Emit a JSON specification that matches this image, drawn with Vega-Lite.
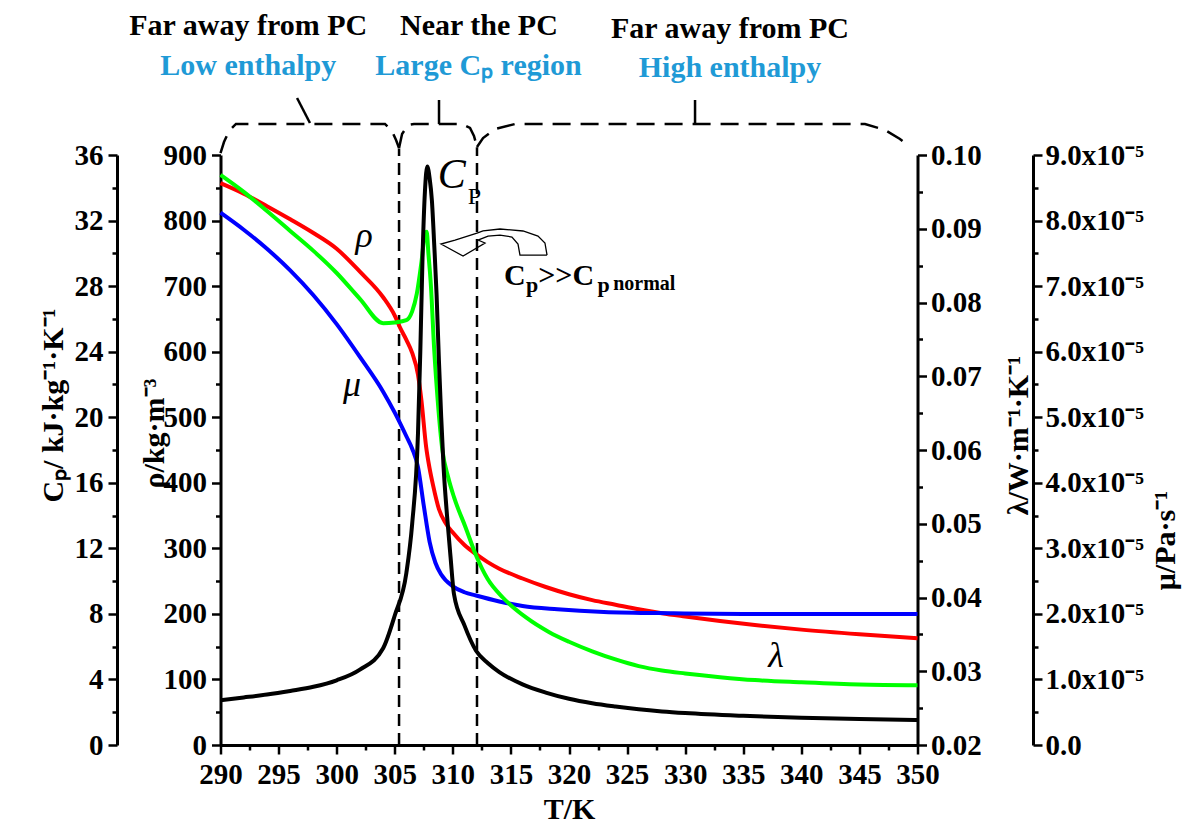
{
  "$schema": "https://vega.github.io/schema/vega-lite/v6.json",
  "width": 697,
  "height": 590,
  "autosize": {"type": "none"},
  "padding": {"left": 220.5, "top": 155, "right": 266.5, "bottom": 78},
  "background": "white",
  "config": {
    "view": {"stroke": null},
    "axis": {
      "domainColor": "black", "domainWidth": 3, "tickColor": "black", "tickWidth": 2.5,
      "labelFont": "Liberation Serif", "labelFontWeight": "bold", "labelFontSize": 29, "labelColor": "black",
      "titleFont": "Liberation Serif", "titleFontWeight": "bold", "titleFontSize": 28, "titleColor": "black",
      "grid": false, "labelOverlap": false, "labelFlush": false, "labelBound": false
    }
  },
  "datasets": {
    "cp": [
      {"T":290,"cp":2.73},{"T":292,"cp":2.9},{"T":294,"cp":3.08},{"T":296,"cp":3.3},{"T":298,"cp":3.55},{"T":300,"cp":3.95},{"T":302,"cp":4.6},{"T":304,"cp":5.9},{"T":305,"cp":7.9},{"T":306,"cp":10.5},{"T":306.5,"cp":13.5},{"T":307,"cp":19},{"T":307.2,"cp":24},{"T":307.4,"cp":30},{"T":307.6,"cp":33.8},{"T":307.8,"cp":35.3},{"T":308,"cp":34.6},{"T":308.2,"cp":33.2},{"T":308.4,"cp":30.5},{"T":308.6,"cp":27.5},{"T":308.8,"cp":23.5},{"T":309,"cp":20},{"T":309.2,"cp":17},{"T":309.5,"cp":14},{"T":309.8,"cp":11.5},{"T":310.1,"cp":9.2},{"T":311,"cp":7.3},{"T":312,"cp":5.75},{"T":313,"cp":5.0},{"T":314,"cp":4.45},{"T":316,"cp":3.7},{"T":318,"cp":3.2},{"T":320,"cp":2.82},{"T":322,"cp":2.55},{"T":324,"cp":2.35},{"T":326,"cp":2.18},{"T":328,"cp":2.05},{"T":330,"cp":1.95},{"T":335,"cp":1.78},{"T":340,"cp":1.66},{"T":345,"cp":1.58},{"T":350,"cp":1.53}
    ],
    "rho": [
      {"T":290,"rho":857},{"T":292,"rho":841},{"T":294,"rho":822},{"T":296,"rho":802},{"T":298,"rho":781},{"T":300,"rho":757},{"T":302,"rho":722},{"T":304,"rho":683},{"T":305,"rho":655},{"T":305.5,"rho":635},{"T":306,"rho":618},{"T":306.5,"rho":598},{"T":307,"rho":565},{"T":307.3,"rho":525},{"T":307.7,"rho":455},{"T":308,"rho":422},{"T":308.3,"rho":396},{"T":308.8,"rho":360},{"T":309.4,"rho":338},{"T":310,"rho":324},{"T":311,"rho":305},{"T":312,"rho":291},{"T":313,"rho":279},{"T":314,"rho":269},{"T":316,"rho":254},{"T":318,"rho":241},{"T":320,"rho":230},{"T":322,"rho":221},{"T":324,"rho":214},{"T":326,"rho":207},{"T":328,"rho":201},{"T":330,"rho":196},{"T":333,"rho":189},{"T":336,"rho":183},{"T":340,"rho":176},{"T":345,"rho":169},{"T":350,"rho":163}
    ],
    "lam": [
      {"T":290,"lam":0.0973},{"T":292,"lam":0.0950},{"T":294,"lam":0.0924},{"T":296,"lam":0.0897},{"T":298,"lam":0.0870},{"T":300,"lam":0.0840},{"T":302,"lam":0.0805},{"T":304,"lam":0.0772},{"T":305,"lam":0.0773},{"T":306,"lam":0.0776},{"T":306.5,"lam":0.0788},{"T":306.9,"lam":0.0812},{"T":307.3,"lam":0.0855},{"T":307.6,"lam":0.0893},{"T":307.75,"lam":0.0896},{"T":307.9,"lam":0.0866},{"T":308.1,"lam":0.0826},{"T":308.4,"lam":0.0735},{"T":308.7,"lam":0.0667},{"T":309.1,"lam":0.0600},{"T":309.6,"lam":0.0563},{"T":310.1,"lam":0.0536},{"T":311.1,"lam":0.0495},{"T":312,"lam":0.0457},{"T":313,"lam":0.0425},{"T":314.3,"lam":0.0400},{"T":316.3,"lam":0.0373},{"T":318.3,"lam":0.0353},{"T":320,"lam":0.0340},{"T":322,"lam":0.0327},{"T":324,"lam":0.0316},{"T":326,"lam":0.0307},{"T":328,"lam":0.0301},{"T":330,"lam":0.0297},{"T":333,"lam":0.0292},{"T":336,"lam":0.0288},{"T":340,"lam":0.0285},{"T":345,"lam":0.0282},{"T":350,"lam":0.0281}
    ],
    "mu": [
      {"T":290,"mu":8.12e-5},{"T":292,"mu":7.86e-5},{"T":294,"mu":7.57e-5},{"T":296,"mu":7.24e-5},{"T":298,"mu":6.86e-5},{"T":300,"mu":6.42e-5},{"T":302,"mu":5.92e-5},{"T":304,"mu":5.39e-5},{"T":305,"mu":5.07e-5},{"T":306,"mu":4.71e-5},{"T":306.5,"mu":4.52e-5},{"T":307,"mu":4.24e-5},{"T":307.5,"mu":3.65e-5},{"T":308,"mu":3.1e-5},{"T":308.5,"mu":2.78e-5},{"T":309,"mu":2.6e-5},{"T":310,"mu":2.42e-5},{"T":311,"mu":2.33e-5},{"T":312,"mu":2.28e-5},{"T":314,"mu":2.19e-5},{"T":316,"mu":2.12e-5},{"T":319,"mu":2.07e-5},{"T":323,"mu":2.03e-5},{"T":329,"mu":2.01e-5},{"T":335,"mu":2.0e-5},{"T":350,"mu":2.0e-5}
    ],
    "braces": [
      {"id":"b1","i":1,"T":290,"v":903},{"id":"b1","i":2,"T":290.3,"v":919.8},{"id":"b1","i":3,"T":290.73,"v":936.6},{"id":"b1","i":4,"T":291.33,"v":947.3},{"id":"b1","i":5,"T":304.16,"v":947.3},{"id":"b1","i":6,"T":304.76,"v":936.6},{"id":"b1","i":7,"T":305.11,"v":922.8},{"id":"b1","i":8,"T":305.37,"v":910.6},
      {"id":"b2","i":1,"T":305.37,"v":910.6},{"id":"b2","i":2,"T":305.63,"v":932.1},{"id":"b2","i":3,"T":306.14,"v":945.8},{"id":"b2","i":4,"T":306.66,"v":947.3},{"id":"b2","i":5,"T":310.79,"v":947.3},{"id":"b2","i":6,"T":311.48,"v":941.2},{"id":"b2","i":7,"T":311.82,"v":929.0},{"id":"b2","i":8,"T":312.08,"v":912.2},
      {"id":"b3","i":1,"T":312.08,"v":912.2},{"id":"b3","i":2,"T":312.6,"v":925.9},{"id":"b3","i":3,"T":313.63,"v":939.6},{"id":"b3","i":4,"T":315.35,"v":947.3},{"id":"b3","i":5,"T":345.48,"v":947.3},{"id":"b3","i":6,"T":347.2,"v":938.1},{"id":"b3","i":7,"T":348.49,"v":924.4},{"id":"b3","i":8,"T":349.35,"v":912.2}
    ],
    "pointers": [
      {"id":"p1","i":1,"T":296.59,"v":986.9},{"id":"p1","i":2,"T":297.7,"v":948.8},
      {"id":"p2","i":1,"T":308.81,"v":983.9},{"id":"p2","i":2,"T":308.81,"v":947.3},
      {"id":"p3","i":1,"T":330.85,"v":983.9},{"id":"p3","i":2,"T":330.85,"v":947.3}
    ],
    "arrow": [
      {"i":1,"T":318.11,"v":747.4},{"i":2,"T":317.93,"v":765.8},{"i":3,"T":317.33,"v":776.4},{"i":4,"T":316.04,"v":784.1},{"i":5,"T":314.06,"v":787.1},{"i":6,"T":312.6,"v":784.1},{"i":7,"T":312.08,"v":781.0},{"i":8,"T":310.19,"v":770.3},{"i":9,"T":308.98,"v":764.2},{"i":10,"T":310.88,"v":745.9},{"i":11,"T":312.77,"v":765.8},{"i":12,"T":312.17,"v":770.3},{"i":13,"T":313.03,"v":776.4},{"i":14,"T":314.06,"v":777.9},{"i":15,"T":315.09,"v":774.9},{"i":16,"T":315.61,"v":764.2},{"i":17,"T":315.78,"v":747.4},{"i":18,"T":318.11,"v":747.4}
    ]
  },
  "encoding": {
    "x": {
      "field": "T", "type": "quantitative",
      "scale": {"domain": [290, 350], "nice": false, "zero": false},
      "axis": {
        "title": "T/K", "titleFontSize": 30, "labelFontSize": 29,
        "values": [290,292.5,295,297.5,300,302.5,305,307.5,310,312.5,315,317.5,320,322.5,325,327.5,330,332.5,335,337.5,340,342.5,345,347.5,350],
        "labelExpr": "datum.value % 5 === 0 ? datum.label : ''",
        "tickSize": {"condition": {"test": "datum.value % 5 !== 0", "value": 5}, "value": 9},
        "labelPadding": 6, "titleY": 73, "titleBaseline": "alphabetic"
      }
    }
  },
  "layer": [
    {
      "data": {"values": [{"T":305.37,"v0":0,"v1":910},{"T":312.08,"v0":0,"v1":912}]},
      "mark": {"type": "rule", "color": "black", "strokeWidth": 2.5, "strokeDash": [12, 7]},
      "encoding": {
        "y": {"field": "v0", "type": "quantitative", "scale": {"domain": [0, 900], "nice": false, "zero": false}, "axis": null},
        "y2": {"field": "v1"}
      }
    },
    {
      "data": {"name": "braces"},
      "mark": {"type": "line", "color": "black", "strokeWidth": 2.5, "strokeDash": [18, 10]},
      "encoding": {
        "y": {"field": "v", "type": "quantitative", "scale": {"domain": [0, 900], "nice": false, "zero": false}, "axis": null},
        "detail": {"field": "id"},
        "order": {"field": "i"}
      }
    },
    {
      "data": {"name": "pointers"},
      "mark": {"type": "line", "color": "black", "strokeWidth": 2.5},
      "encoding": {
        "y": {"field": "v", "type": "quantitative", "scale": {"domain": [0, 900], "nice": false, "zero": false}, "axis": null},
        "detail": {"field": "id"},
        "order": {"field": "i"}
      }
    },
    {
      "data": {"name": "arrow"},
      "mark": {"type": "line", "color": "black", "strokeWidth": 1.3},
      "encoding": {
        "y": {"field": "v", "type": "quantitative", "scale": {"domain": [0, 900], "nice": false, "zero": false}, "axis": null},
        "order": {"field": "i"}
      }
    },
    {
      "data": {"values": [{"T":292.39,"v":1096.8,"label":"Far away from PC"},{"T":312.25,"v":1096.8,"label":"Near the PC"},{"T":333.86,"v":1092.2,"label":"Far away from PC"}]},
      "mark": {"type": "text", "font": "Liberation Serif", "fontWeight": "bold", "fontSize": 30, "color": "black", "align": "center", "baseline": "middle"},
      "encoding": {
        "y": {"field": "v", "type": "quantitative", "scale": {"domain": [0, 900], "nice": false, "zero": false}, "axis": null},
        "text": {"field": "label"}
      }
    },
    {
      "data": {"values": [{"T":292.39,"v":1035.8,"label":"Low enthalpy"},{"T":312.21,"v":1035.8,"label":"Large Cₚ region"},{"T":333.86,"v":1032.7,"label":"High enthalpy"}]},
      "mark": {"type": "text", "font": "Liberation Serif", "fontWeight": "bold", "fontSize": 30, "color": "#1f9ad6", "align": "center", "baseline": "middle"},
      "encoding": {
        "y": {"field": "v", "type": "quantitative", "scale": {"domain": [0, 900], "nice": false, "zero": false}, "axis": null},
        "text": {"field": "label"}
      }
    },
    {
      "data": {"values": [{"T":302.37,"v":776.4,"label":"ρ"},{"T":301.32,"v":549.1,"label":"μ"},{"T":337.82,"v":135.8,"label":"λ"}]},
      "mark": {"type": "text", "font": "Liberation Serif", "fontStyle": "italic", "fontSize": 36, "color": "black", "align": "center", "baseline": "middle"},
      "encoding": {
        "y": {"field": "v", "type": "quantitative", "scale": {"domain": [0, 900], "nice": false, "zero": false}, "axis": null},
        "text": {"field": "label"}
      }
    },
    {
      "data": {"values": [{"T":309.9,"v":869.5,"label":"C"}]},
      "mark": {"type": "text", "font": "Liberation Serif", "fontStyle": "italic", "fontSize": 42, "color": "black", "align": "center", "baseline": "middle"},
      "encoding": {
        "y": {"field": "v", "type": "quantitative", "scale": {"domain": [0, 900], "nice": false, "zero": false}, "axis": null},
        "text": {"field": "label"}
      }
    },
    {
      "data": {"values": [{"T":311.85,"v":836,"label":"P"}]},
      "mark": {"type": "text", "font": "Liberation Serif", "fontSize": 24, "color": "black", "align": "center", "baseline": "middle"},
      "encoding": {
        "y": {"field": "v", "type": "quantitative", "scale": {"domain": [0, 900], "nice": false, "zero": false}, "axis": null},
        "text": {"field": "label"}
      }
    },
    {
      "data": {"values": [{"T":314.4,"v":701.7,"label":"C"},{"T":317.35,"v":701.7,"label":">>C"}]},
      "mark": {"type": "text", "font": "Liberation Serif", "fontWeight": "bold", "fontSize": 30, "color": "black", "align": "left", "baseline": "alphabetic"},
      "encoding": {
        "y": {"field": "v", "type": "quantitative", "scale": {"domain": [0, 900], "nice": false, "zero": false}, "axis": null},
        "text": {"field": "label"}
      }
    },
    {
      "data": {"values": [{"T":316.3,"v":691,"label":"p"},{"T":322.45,"v":691,"label":"p"}]},
      "mark": {"type": "text", "font": "Liberation Serif", "fontWeight": "bold", "fontSize": 22, "color": "black", "align": "left", "baseline": "alphabetic"},
      "encoding": {
        "y": {"field": "v", "type": "quantitative", "scale": {"domain": [0, 900], "nice": false, "zero": false}, "axis": null},
        "text": {"field": "label"}
      }
    },
    {
      "data": {"values": [{"T":323.8,"v":694,"label":"normal"}]},
      "mark": {"type": "text", "font": "Liberation Serif", "fontWeight": "bold", "fontSize": 20, "color": "black", "align": "left", "baseline": "alphabetic"},
      "encoding": {
        "y": {"field": "v", "type": "quantitative", "scale": {"domain": [0, 900], "nice": false, "zero": false}, "axis": null},
        "text": {"field": "label"}
      }
    },
    {
      "data": {"name": "rho"},
      "mark": {"type": "line", "color": "#ff0000", "strokeWidth": 4, "interpolate": "monotone"},
      "encoding": {
        "y": {
          "field": "rho", "type": "quantitative",
          "scale": {"domain": [0, 900], "nice": false, "zero": false},
          "axis": {
            "orient": "left", "title": "ρ/kg·m⁻³", "titleFontSize": 30,
            "values": [0,50,100,150,200,250,300,350,400,450,500,550,600,650,700,750,800,850,900],
            "labelExpr": "datum.value % 100 === 0 ? datum.label : ''",
            "tickSize": {"condition": {"test": "datum.value % 100 !== 0", "value": 5}, "value": 9},
            "labelPadding": 5, "titleAngle": -90, "titleX": -57, "titleY": 278, "titleBaseline": "alphabetic", "titleAlign": "center"
          }
        }
      }
    },
    {
      "data": {"name": "mu"},
      "mark": {"type": "line", "color": "#0000ff", "strokeWidth": 4, "interpolate": "monotone"},
      "encoding": {
        "y": {
          "field": "mu", "type": "quantitative",
          "scale": {"domain": [0, 9e-5], "nice": false, "zero": false},
          "axis": {
            "orient": "right", "offset": 115.5, "title": "μ/Pa·s⁻¹", "titleFontSize": 30,
            "values": [0,5e-6,1e-5,1.5e-5,2e-5,2.5e-5,3e-5,3.5e-5,4e-5,4.5e-5,5e-5,5.5e-5,6e-5,6.5e-5,7e-5,7.5e-5,8e-5,8.5e-5,9e-5],
            "labelExpr": "round(datum.value*1e6) % 10 === 0 ? (datum.value === 0 ? '0.0' : format(datum.value*1e5, '.1f') + 'x10⁻⁵') : ''",
            "tickSize": {"condition": {"test": "round(datum.value*1e6) % 10 !== 0", "value": 5}, "value": 9},
            "labelPadding": 3, "titleAngle": -90, "titleX": 141, "titleY": 385, "titleBaseline": "alphabetic", "titleAlign": "center"
          }
        }
      }
    },
    {
      "data": {"name": "lam"},
      "mark": {"type": "line", "color": "#00ff00", "strokeWidth": 4, "interpolate": "monotone"},
      "encoding": {
        "y": {
          "field": "lam", "type": "quantitative",
          "scale": {"domain": [0.02, 0.1], "nice": false, "zero": false},
          "axis": {
            "orient": "right", "title": "λ/W·m⁻¹·K⁻¹", "titleFontSize": 30,
            "values": [0.02,0.025,0.03,0.035,0.04,0.045,0.05,0.055,0.06,0.065,0.07,0.075,0.08,0.085,0.09,0.095,0.1],
            "format": ".2f",
            "labelExpr": "round(datum.value*1000) % 10 === 0 ? datum.label : ''",
            "tickSize": {"condition": {"test": "round(datum.value*1000) % 10 !== 0", "value": 5}, "value": 9},
            "labelPadding": 4, "titleAngle": -90, "titleX": 110, "titleY": 280, "titleBaseline": "alphabetic", "titleAlign": "center"
          }
        }
      }
    },
    {
      "data": {"name": "cp"},
      "mark": {"type": "line", "color": "black", "strokeWidth": 4, "interpolate": "monotone"},
      "encoding": {
        "y": {
          "field": "cp", "type": "quantitative",
          "scale": {"domain": [0, 36], "nice": false, "zero": false},
          "axis": {
            "orient": "left", "offset": 103.5, "title": "Cₚ/ kJ·kg⁻¹·K⁻¹", "titleFontSize": 30,
            "values": [0,2,4,6,8,10,12,14,16,18,20,22,24,26,28,30,32,34,36],
            "labelExpr": "datum.value % 4 === 0 ? datum.label : ''",
            "tickSize": {"condition": {"test": "datum.value % 4 !== 0", "value": 5}, "value": 9},
            "labelPadding": 5, "titleAngle": -90, "titleX": -55, "titleY": 250, "titleBaseline": "alphabetic", "titleAlign": "center"
          }
        }
      }
    }
  ],
  "resolve": {"scale": {"y": "independent"}}
}
